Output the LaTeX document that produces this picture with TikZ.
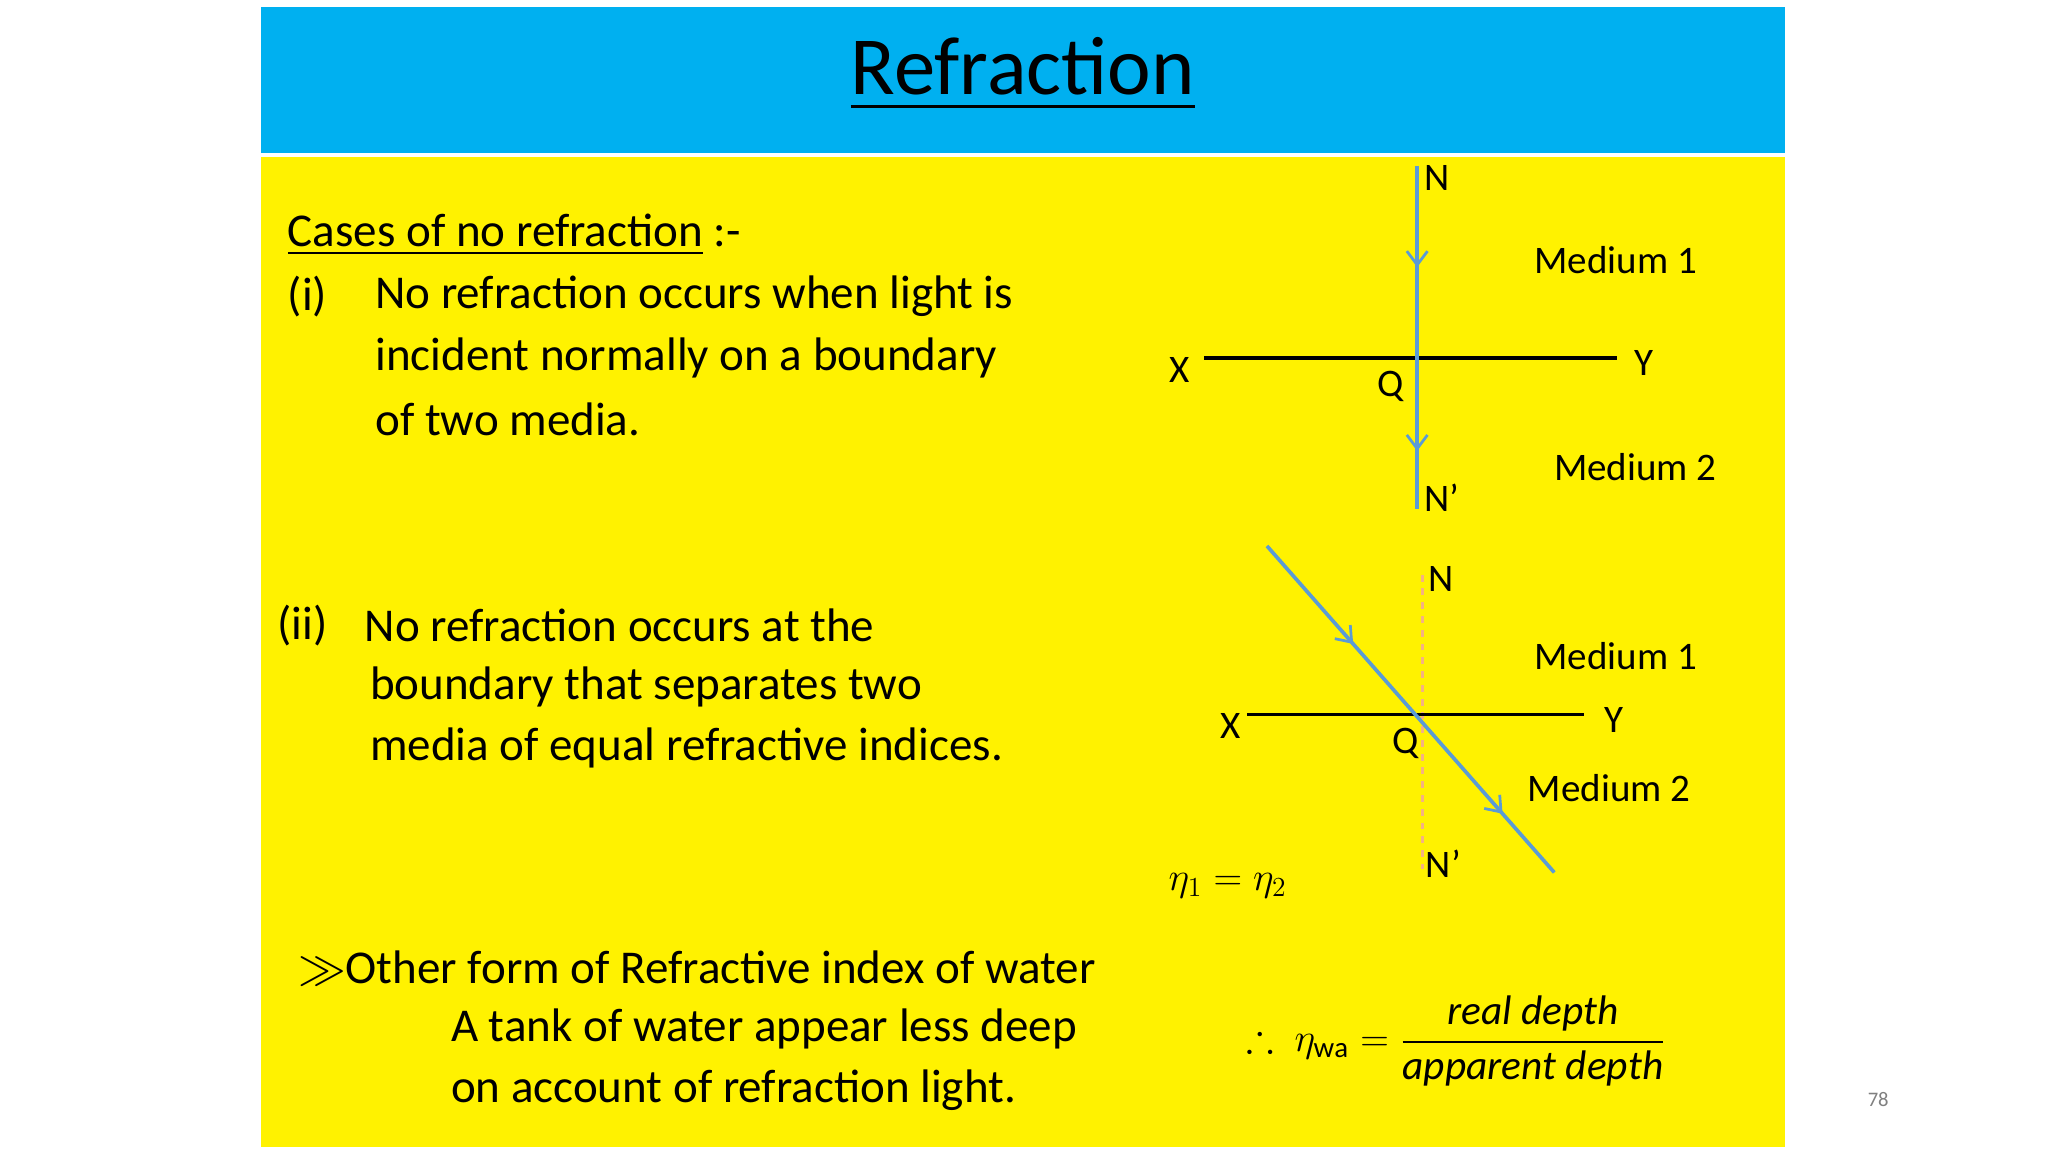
\documentclass[tikz,border=0pt]{standalone}
\usepackage{amsmath,amssymb}
\usepackage{fontspec}
\setmainfont{Carlito}
\usetikzlibrary{arrows.meta,decorations.markings}
\definecolor{hdr}{HTML}{00B0F0}
\definecolor{ray}{HTML}{5B9BD5}
\definecolor{dashc}{HTML}{F4B183}
\begin{document}
\begin{tikzpicture}[x=0.02cm,y=-0.02cm,
  body/.style={anchor=west,inner sep=0pt,font=\fontsize{20.5}{24}\selectfont},
  lbl/.style={inner sep=0pt,font=\fontsize{17}{20}\selectfont},
  rayl/.style={ray,line width=1.6pt},
  mark/.style={postaction={decorate,decoration={markings,
     mark=at position #1 with {\arrow[ray,line width=1.2pt]{Straight Barb[length=6pt,width=9pt]}}}}}]
\useasboundingbox (0,0) rectangle (1568,882);
\fill[white] (0,0) rectangle (1568,882);
\fill[hdr] (200,5) rectangle (1367,117);
\fill[yellow] (200,120) rectangle (1367,878);
\node[inner sep=0pt,font=\fontsize{36}{40}\selectfont] (title) at (783,57) {\underline{Refraction}};
\node[inner sep=0pt,text=gray,font=\fontsize{9}{11}\selectfont] (pg) at (1438,842) {78};
% left text
\node[body] (t0) at (220,180) {\underline{Cases of no refraction} :-};
\node[body] (t1a) at (220,227) {(i)};
\node[body] (t1) at (287,227) {No refraction occurs when light is};
\node[body] (t2) at (287,274) {incident normally on a boundary};
\node[body] (t3) at (287,321) {of two media.};
\node[body] (t4a) at (212,479) {(ii)};
\node[body] (t4) at (279,479) {No refraction occurs at the};
\node[body] (t5) at (283,526) {boundary that separates two};
\node[body] (t6) at (283,573) {media of equal refractive indices.};
\node[body] (t7) at (228,741) {$\gg$Other form of Refractive index of water};
\node[body] (t8) at (345,788) {A tank of water appear less deep};
\node[body] (t9) at (345,835) {on account of refraction light.};
% diagram 1
\coordinate (n1) at (1085,127);
\coordinate (n1b) at (1085,390);
\coordinate (x1) at (922,274);
\coordinate (y1) at (1238,274);
\draw[line width=1.6pt] (x1) -- (y1);
\draw[rayl,mark=0.295,mark=0.83] (n1) -- (n1b);
\node[lbl] (N1) at (1100,136) {N};
\node[lbl] (M11) at (1237,199) {Medium 1};
\node[lbl] (X1) at (903,283) {X};
\node[lbl] (Y1) at (1259,278) {Y};
\node[lbl] (Q1) at (1065,296) {Q};
\node[lbl] (M12) at (1252,358) {Medium 2};
\node[lbl] (Np1) at (1104,381) {N’};
% diagram 2
\coordinate (n2) at (1089,440);
\coordinate (n2b) at (1089,665);
\coordinate (x2) at (955,547);
\coordinate (y2) at (1213,547);
\coordinate (r1) at (970,418);
\coordinate (r2) at (1190,668);
\draw[dashc,line width=1.4pt,dashed] (n2) -- (n2b);
\draw[line width=1.6pt] (x2) -- (y2);
\draw[rayl,mark=0.3,mark=0.82] (r1) -- (r2);
\node[lbl] (N2) at (1103,443) {N};
\node[lbl] (M21) at (1237,502) {Medium 1};
\node[lbl] (X2) at (942,556) {X};
\node[lbl] (Y2) at (1236,551) {Y};
\node[lbl] (Q2) at (1076,569) {Q};
\node[lbl] (M22) at (1232,603) {Medium 2};
\node[lbl] (Np2) at (1105,661) {N’};
\node[lbl] (eq) at (940,678) {$\eta_1=\eta_2$};
\node[inner sep=0pt,font=\fontsize{18}{22}\selectfont] (f) at (1115,797)
  {$\therefore\ \eta_{\mathrm{wa}}=\dfrac{\mathit{real\ depth}}{\mathit{apparent\ depth}}$};
\end{tikzpicture}
\end{document}
